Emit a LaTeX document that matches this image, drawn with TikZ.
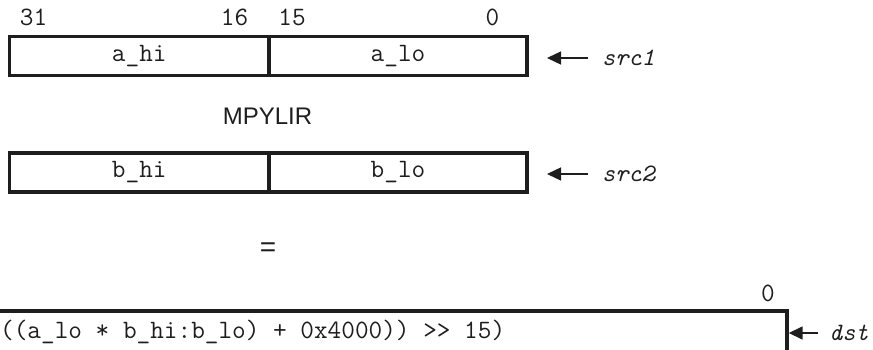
\documentclass[tikz,border=0pt]{standalone}
\usepackage{fontspec}
\setmainfont{Liberation Sans}
\usetikzlibrary{arrows.meta}
\definecolor{ink}{HTML}{1E1E1E}
\tikzset{
  field/.style={draw=ink, text=ink, line width=3.5pt, inner sep=0pt, outer sep=0pt,
    font=\ttfamily\fontsize{26.5}{28}\selectfont},
  bitlbl/.style={inner sep=0pt, text=ink, font=\ttfamily\fontsize{26.5}{28}\selectfont},
  reglbl/.style={inner sep=0pt, text=ink, anchor=west, font=\ttfamily\itshape\fontsize{25}{28}\selectfont},
  oplbl/.style={inner sep=0pt, text=ink, font=\fontsize{24}{28}\selectfont},
  ptr/.style={draw=ink, fill=ink, line width=1.5pt, -{Triangle[length=14pt,width=13pt]}},
  regline/.style={draw=ink, line width=3.5pt},
}
\begin{document}
\begin{tikzpicture}[x=1pt,y=-1pt]
\useasboundingbox (0,0) rectangle (873,350);
% bit numbers
\node[bitlbl] (b31) at (33.5,17.5) {31};
\node[bitlbl] (b16) at (234.5,17.5) {16};
\node[bitlbl] (b15) at (292,17.5) {15};
\node[bitlbl] (b0) at (492.5,17.5) {0};
% src1
\node[field, minimum width=259.5pt, minimum height=39pt] (ahi) at (139.25,56) {a\_hi};
\node[field, minimum width=258pt, minimum height=39pt] (alo) at (398,56) {a\_lo};
\node[reglbl] (src1) at (602,58) {src1};
\draw[ptr] ([xshift=-14pt]src1.west) -- ([xshift=20pt]alo.east |- src1.west);
% operation
\node[oplbl] (op) at (267.5,116) {MPYLIR};
% src2
\node[field, minimum width=259.5pt, minimum height=39pt] (bhi) at (139.25,172.5) {b\_hi};
\node[field, minimum width=258pt, minimum height=39pt] (blo) at (398,172.5) {b\_lo};
\node[reglbl] (src2) at (602,174) {src2};
\draw[ptr] ([xshift=-14pt]src2.west) -- ([xshift=20pt]blo.east |- src2.west);
% equals
\node[oplbl, font=\fontsize{28}{30}\selectfont] (eq) at (268,250) {=};
% dst
\node[bitlbl] (d0) at (768,293) {0};
\draw[regline] (-5,311) -- (787,311) coordinate (dstc) -- (787,352);
\coordinate (dstedge) at (788.7,333);
\node[bitlbl, anchor=west] (expr) at (0,332) {((a\_lo * b\_hi:b\_lo) + 0x4000)) >{}> 15)};
\node[reglbl] (dst) at (829,333) {dst};
\draw[ptr] ([xshift=-11pt]dst.west) -- (dstedge);
\end{tikzpicture}
\end{document}
